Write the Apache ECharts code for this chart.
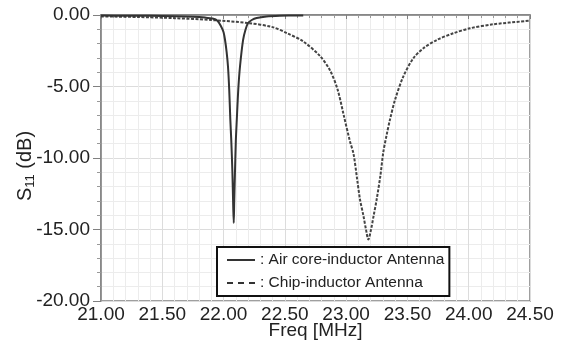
<!DOCTYPE html>
<html>
<head>
<meta charset="utf-8">
<script src="https://cdn.jsdelivr.net/npm/echarts@6/dist/echarts.min.js"></script>
<style>
html,body{margin:0;padding:0;background:#fff;}
#chart{width:565px;height:342px;}
</style>
</head>
<body>
<div id="chart"></div>
<script>
// Air core-inductor antenna (solid)
var airFreq = [21.00, 21.20, 21.40, 21.60, 21.75, 21.85, 21.91, 21.95, 21.98, 22.00, 22.012, 22.025, 22.036, 22.046, 22.055, 22.063, 22.072, 22.079, 22.083, 22.087, 22.093, 22.100, 22.108, 22.120, 22.134, 22.159, 22.180, 22.200, 22.230, 22.270, 22.350, 22.460, 22.560, 22.650];
var airS11  = [-0.04, -0.05, -0.06, -0.08, -0.12, -0.18, -0.25, -0.40, -0.80, -1.20, -1.75, -2.60, -3.60, -5.20, -7.30, -8.80, -11.00, -13.50, -14.55, -13.00, -11.00, -8.80, -7.30, -5.20, -3.60, -1.75, -1.00, -0.56, -0.35, -0.21, -0.10, -0.05, -0.04, -0.03];
// Chip-inductor antenna (dashed)
var chipFreq = [21.00, 21.30, 21.60, 21.90, 22.20, 22.40, 22.52, 22.65, 22.79, 22.87, 22.93, 22.98, 23.03, 23.06, 23.09, 23.113, 23.14, 23.162, 23.181, 23.203, 23.225, 23.249, 23.28, 23.303, 23.33, 23.358, 23.40, 23.466, 23.548, 23.63, 23.739, 23.874, 24.01, 24.20, 24.50];
var chipS11  = [-0.10, -0.14, -0.22, -0.35, -0.56, -0.85, -1.28, -1.85, -2.90, -3.90, -5.20, -7.00, -8.80, -9.70, -11.50, -12.90, -14.00, -15.00, -15.70, -15.00, -14.00, -12.90, -11.20, -9.60, -8.40, -7.30, -5.90, -4.31, -3.03, -2.33, -1.75, -1.28, -0.93, -0.65, -0.40];
var xTicks = [21.00, 24.50, 0.5];   // min, max, step
var yTicks = [-20, 0, 5];
var seriesNames = ['Air core-inductor Antenna', 'Chip-inductor Antenna'];

function zip(a, b) { return a.map(function (v, i) { return [v, b[i]]; }); }

var FONT = 'Liberation Sans';
var chart = echarts.init(document.getElementById('chart'), null, {renderer: 'canvas'});
chart.setOption({
  animation: false,
  backgroundColor: '#fff',
  grid: {left: 101, right: 35, top: 15, bottom: 41, show: true, borderColor: '#808080', borderWidth: 1.5,
         backgroundColor: 'transparent', containLabel: false, outerBoundsMode: 'none'},
  legend: {
    orient: 'vertical', left: 217, top: 247,
    itemWidth: 28, itemHeight: 14, itemGap: 7,
    padding: [5, 5, 5, 10],
    borderColor: '#111', borderWidth: 2, backgroundColor: '#fff',
    textStyle: {fontFamily: FONT, fontSize: 15.5, color: '#222'},
    formatter: function (n) { return ': ' + n; },
    data: [
      {name: seriesNames[0], icon: 'path://M0,0h28v2h-28z', itemStyle: {color: '#333'}},
      {name: seriesNames[1], icon: 'path://M0,0h6v2h-6zM11,0h6v2h-6zM22,0h6v2h-6z', itemStyle: {color: '#333'}}
    ]
  },
  xAxis: {
    type: 'value', min: xTicks[0], max: xTicks[1], interval: xTicks[2],
    name: 'Freq [MHz]', nameLocation: 'middle', nameGap: 20, nameMoveOverlap: false,
    nameTextStyle: {fontFamily: FONT, fontSize: 19, color: '#222'},
    axisLine: {lineStyle: {color: '#808080', width: 1.5}},
    axisTick: {show: true, inside: false, length: 4, lineStyle: {color: '#808080'}},
    minorTick: {show: true, splitNumber: 5, length: 3, lineStyle: {color: '#999'}},
    axisLabel: {fontFamily: FONT, fontSize: 19, color: '#222', margin: 4, formatter: function (v) { return v.toFixed(2); }},
    splitLine: {show: true, lineStyle: {color: '#dcdcdc', width: 1}},
    minorSplitLine: {show: true, lineStyle: {color: '#ececec', width: 1}}
  },
  yAxis: {
    type: 'value', min: yTicks[0], max: yTicks[1], interval: yTicks[2],
    name: '{s|S}{sub|11}{s| (dB)}', nameLocation: 'middle', nameGap: 64, nameMoveOverlap: false,
    nameTextStyle: {
      fontFamily: FONT, color: '#222', padding: [0, 16, 0, 0],
      rich: {
        s: {fontFamily: FONT, fontSize: 20, color: '#222', lineHeight: 24},
        sub: {fontFamily: FONT, fontSize: 13, color: '#222', lineHeight: 24, verticalAlign: 'bottom', padding: [7, 0, 0, 0]}
      }
    },
    axisLine: {show: true, lineStyle: {color: '#808080', width: 1.5}},
    axisTick: {show: true, inside: false, length: 8, lineStyle: {color: '#808080'}},
    minorTick: {show: true, splitNumber: 5, length: 4, lineStyle: {color: '#999'}},
    axisLabel: {fontFamily: FONT, fontSize: 19, color: '#222', margin: 11, formatter: function (v) { return v.toFixed(2); }},
    splitLine: {show: true, lineStyle: {color: '#dcdcdc', width: 1}},
    minorSplitLine: {show: true, lineStyle: {color: '#ececec', width: 1}}
  },
  series: [
    {
      name: seriesNames[0], type: 'line', data: zip(airFreq, airS11),
      smooth: 0.3, symbol: 'none',
      lineStyle: {color: '#333', width: 2, type: 'solid'},
      itemStyle: {color: '#333'}, z: 3
    },
    {
      name: seriesNames[1], type: 'line', data: zip(chipFreq, chipS11),
      smooth: 0.3, symbol: 'none',
      lineStyle: {color: '#444', width: 2, type: [3, 1.5]},
      itemStyle: {color: '#444'}, z: 2
    }
  ]
});
</script>
</body>
</html>
